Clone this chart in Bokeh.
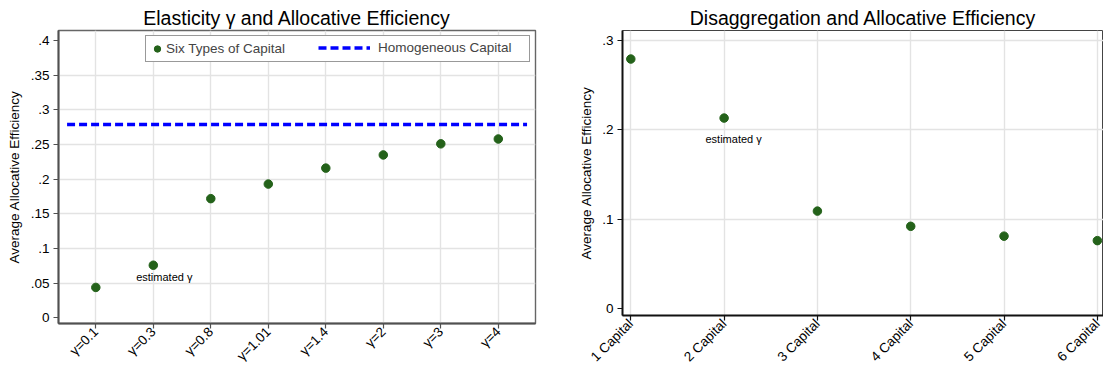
from bokeh.plotting import figure
from bokeh.layouts import row
from bokeh.models import Range1d, FixedTicker, Legend, LegendItem, Label
from bokeh.embed import file_html
from bokeh.resources import INLINE

# ---- Left panel: elasticity of substitution across capital types ----
gamma_labels = ["γ=0.1", "γ=0.3", "γ=0.8", "γ=1.01", "γ=1.4", "γ=2", "γ=3", "γ=4"]
six_types = [0.044, 0.076, 0.172, 0.193, 0.216, 0.235, 0.251, 0.258]
homogeneous = 0.279
left_yticks = [0, 0.05, 0.1, 0.15, 0.2, 0.25, 0.3, 0.35, 0.4]
left_ytick_labels = ["0", ".05", ".1", ".15", ".2", ".25", ".3", ".35", ".4"]
left_estimated = "γ=0.3"

# ---- Right panel: number of capital types ----
capital_labels = ["1 Capital", "2 Capital", "3 Capital", "4 Capital", "5 Capital", "6 Capital"]
disagg_eff = [0.279, 0.213, 0.109, 0.092, 0.081, 0.076]
right_yticks = [0, 0.1, 0.2, 0.3]
right_ytick_labels = ["0", ".1", ".2", ".3"]
right_estimated = "2 Capital"

FONT = "Liberation Sans"
GREEN = "#24621a"
BLUE = "#0000ff"
GRID = "#e3e3e3"


def style(p, xticks, xlabels, yticks, ylabels, axis_color, axis_width,
          outline_color, outline_width, label_standoff, x_standoff, x_line_height):
    p.title.text_font = FONT
    p.title.text_font_size = "19.5px"
    p.title.text_font_style = "normal"
    p.title.align = "center"
    p.title.standoff = 3
    p.title.text_color = "black"
    p.background_fill_color = "white"
    p.border_fill_color = "white"
    p.outline_line_color = outline_color
    p.outline_line_width = outline_width

    p.xaxis.ticker = FixedTicker(ticks=xticks)
    p.xaxis.major_label_overrides = {t: s for t, s in zip(xticks, xlabels)}
    p.xaxis.major_label_orientation = 0.785398
    p.xaxis.axis_label = None
    p.xaxis.axis_label_standoff = 0
    p.yaxis.ticker = FixedTicker(ticks=yticks)
    p.yaxis.major_label_overrides = {t: s for t, s in zip(yticks, ylabels)}

    for ax in (p.xaxis, p.yaxis):
        ax.axis_line_color = axis_color
        ax.axis_line_width = axis_width
        ax.major_tick_line_color = axis_color
        ax.major_tick_line_width = 1.2
        ax.major_tick_out = 5
        ax.major_tick_in = 0
        ax.minor_tick_line_color = None
        ax.major_label_text_font = FONT
        ax.major_label_text_font_size = "13.5px"
        ax.major_label_text_color = "black"
    p.xaxis.major_label_standoff = x_standoff
    p.xaxis.major_label_text_line_height = x_line_height
    p.yaxis.major_label_standoff = 4
    p.yaxis.axis_label = "Average Allocative Efficiency"
    p.yaxis.axis_label_text_font = FONT
    p.yaxis.axis_label_text_font_size = "13.5px"
    p.yaxis.axis_label_text_font_style = "normal"
    p.yaxis.axis_label_text_color = "black"
    p.yaxis.axis_label_standoff = label_standoff

    p.xgrid.ticker = FixedTicker(ticks=xticks)
    p.xgrid.grid_line_color = GRID
    p.xgrid.grid_line_width = 1.4
    p.ygrid.grid_line_color = GRID
    p.ygrid.grid_line_width = 1.6


# ---------------- left figure ----------------
xl = list(range(1, len(gamma_labels) + 1))
p1 = figure(width=553, height=372, output_backend="svg", toolbar_location=None,
            title="Elasticity γ and Allocative Efficiency",
            x_range=Range1d(0.351, 8.647), y_range=Range1d(-0.008, 0.4144),
            min_border_left=58, min_border_right=18, min_border_top=30,
            min_border_bottom=46, frame_align=False)
style(p1, xl, gamma_labels, left_yticks, left_ytick_labels,
      "#505050", 2, "#666666", 1.4, 6, 1, 0.9)
# interior gridlines only (none on the axis limits)
p1.ygrid.ticker = FixedTicker(ticks=left_yticks[1:-1])

n = len(gamma_labels)
homog_r = p1.line(x=[0.5, n + 0.5], y=[homogeneous, homogeneous],
                  line_color=BLUE, line_width=3.5, line_dash="8 4")
six_r = p1.scatter(x=xl, y=six_types, size=8.5, marker="circle",
                   fill_color=GREEN, line_color=GREEN)

i_est = gamma_labels.index(left_estimated)
p1.add_layout(Label(x=xl[i_est], y=six_types[i_est], x_offset=11, y_offset=-12,
                    text="estimated γ", text_font=FONT, text_font_size="11px",
                    text_align="center", text_baseline="middle",
                    text_color="black"))

# legend: boxed marker entry, with the dashed-line entry laid over the same box
leg_a = Legend(items=[LegendItem(label="Six Types of Capital", renderers=[six_r])],
               location="top_right", orientation="horizontal", margin=5,
               padding=3, glyph_width=16, glyph_height=19, label_height=19,
               label_standoff=1, label_width=360,
               border_line_color="#333333", border_line_width=1,
               background_fill_color="white", background_fill_alpha=1,
               label_text_font=FONT, label_text_font_size="13.5px")
leg_b = Legend(items=[LegendItem(label="Homogeneous Capital", renderers=[homog_r])],
               location="top_right", orientation="horizontal", margin=5,
               padding=3, glyph_width=52, glyph_height=19, label_height=19,
               label_standoff=8, label_width=149,
               border_line_alpha=0, background_fill_alpha=0,
               label_text_font=FONT, label_text_font_size="13.5px")
p1.add_layout(leg_a)
p1.add_layout(leg_b)

# ---------------- right figure ----------------
xr = list(range(1, len(capital_labels) + 1))
p2 = figure(width=550, height=372, output_backend="svg", toolbar_location=None,
            title="Disaggregation and Allocative Efficiency",
            x_range=Range1d(0.911, 6.066), y_range=Range1d(-0.0077, 0.3109),
            min_border_left=69, min_border_right=0, min_border_top=30,
            min_border_bottom=56, frame_align=False)
style(p2, xr, capital_labels, right_yticks, right_ytick_labels,
      "#111111", 2, "#444444", 1, 5, 1, 1.05)
p2.ygrid.ticker = FixedTicker(ticks=right_yticks[1:])

p2.scatter(x=xr, y=disagg_eff, size=8.5, marker="circle",
           fill_color=GREEN, line_color=GREEN)
j_est = capital_labels.index(right_estimated)
p2.add_layout(Label(x=xr[j_est], y=disagg_eff[j_est], x_offset=9.5, y_offset=-21,
                    text="estimated γ", text_font=FONT, text_font_size="11px",
                    text_align="center", text_baseline="middle",
                    text_color="black"))

layout = row(p1, p2)
open("out.html", "w").write(file_html(layout, INLINE))
